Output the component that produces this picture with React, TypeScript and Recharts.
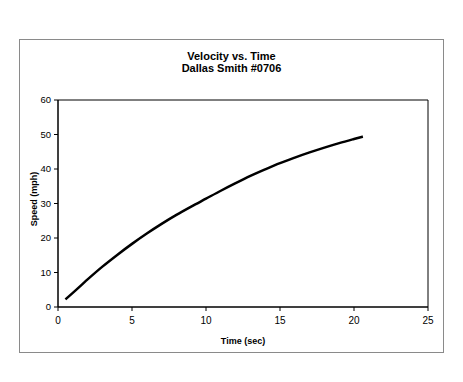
import { LineChart, Line, XAxis, YAxis, ReferenceArea } from "recharts";

const times = [0.5, 1, 2, 3, 4, 5, 6, 7, 8, 9, 10, 11, 12, 13, 14, 15, 16, 17, 18, 19, 20, 20.6];
const speeds = [2.2, 4.1, 8, 11.7, 15.1, 18.3, 21.3, 24.1, 26.7, 29.1, 31.4, 33.7, 35.9, 38, 39.9, 41.7, 43.3, 44.8, 46.2, 47.5, 48.7, 49.4];
const xTicks = [0, 5, 10, 15, 20, 25];
const yTicks = [0, 10, 20, 30, 40, 50, 60];

const data = times.map((t, i) => ({ t, v: speeds[i] }));

const font = '"Liberation Sans", Arial, sans-serif';

export default function App() {
  return (
    <div style={{ position: "absolute", left: 0, top: 0, width: 463, height: 382, background: "#fff", fontFamily: font }}>
      <div style={{ position: "absolute", left: 19, top: 39, width: 423, height: 312, border: "1px solid #8a8a8a" }} />
      <div style={{ position: "absolute", left: 19, width: 425, top: 50, textAlign: "center", fontSize: 11, fontWeight: "bold", lineHeight: "12px", color: "#000" }}>
        Velocity vs. Time
        <br />
        Dallas Smith #0706
      </div>
      <div style={{ position: "absolute", left: 0, top: 0 }}>
        <LineChart width={463} height={382} data={data} margin={{ top: 100, right: 35, bottom: 45, left: 18 }}>
          <ReferenceArea x1={0} x2={25} y1={0} y2={60} fill="none" stroke="#000" strokeWidth={1} ifOverflow="visible" />
          <XAxis
            type="number"
            dataKey="t"
            domain={[0, 25]}
            ticks={xTicks}
            height={30}
            tickSize={4}
            tickMargin={6}
            axisLine={{ stroke: "#000" }}
            tickLine={{ stroke: "#000" }}
            tick={{ fontSize: 10, fill: "#000", fontFamily: font }}
          />
          <YAxis
            type="number"
            domain={[0, 60]}
            ticks={yTicks}
            width={40}
            tickSize={4}
            tickMargin={3}
            axisLine={{ stroke: "#000" }}
            tickLine={{ stroke: "#000" }}
            tick={{ fontSize: 9.5, fill: "#000", fontFamily: font }}
          />
          <Line dataKey="v" type="monotone" stroke="#000" strokeWidth={2.5} dot={false} isAnimationActive={false} />
        </LineChart>
      </div>
      <div style={{ position: "absolute", left: 193, width: 100, top: 335, textAlign: "center", fontSize: 9, fontWeight: "bold", lineHeight: "12px" }}>
        Time (sec)
      </div>
      <div style={{ position: "absolute", left: 34 - 50, width: 100, top: 199 - 6, textAlign: "center", fontSize: 9, fontWeight: "bold", lineHeight: "12px", transform: "rotate(-90deg)" }}>
        Speed (mph)
      </div>
    </div>
  );
}
